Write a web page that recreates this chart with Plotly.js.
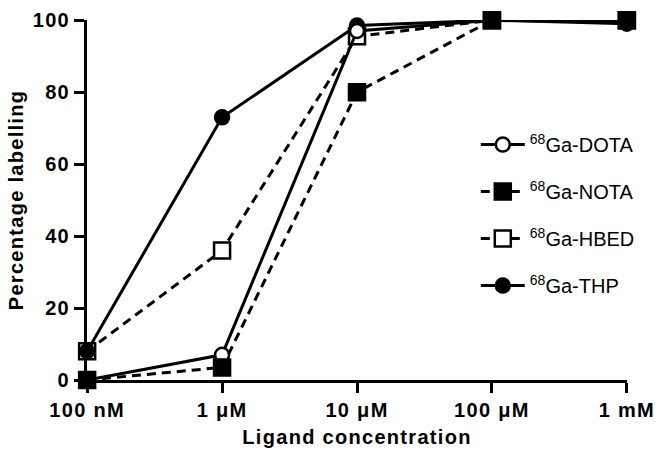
<!DOCTYPE html>
<html><head><meta charset="utf-8">
<script src="https://cdn.plot.ly/plotly-3.0.1.min.js"></script>
<style>html,body{margin:0;padding:0;background:#fff}#c{width:664px;height:460px}
#c svg .xtick text,#c svg .ytick text,#c svg .g-xtitle text,#c svg .g-ytitle text{letter-spacing:1.3px !important}</style>
</head><body><div id="c"></div>
<script>
const concentrations = [1e-7, 1e-6, 1e-5, 1e-4, 1e-3];
const tickLabels = ["100 nM", "1 μM", "10 μM", "100 μM", "1 mM"];
const yTicks = [0, 20, 40, 60, 80, 100];
const seriesNames = ["<sup>68</sup>Ga-DOTA", "<sup>68</sup>Ga-NOTA", "<sup>68</sup>Ga-HBED", "<sup>68</sup>Ga-THP"];
const dota = [0, 7, 97, 100, 99.5];
const nota = [0, 3.5, 80, 100, 100];
const hbed = [8, 36, 95.5, 100, 100];
const thp = [8, 73, 98.5, 100, 99];

function tr(name, y, dash, symbol, fill, rank) {
  const sq = symbol.indexOf('square') >= 0;
  return {
    x: concentrations, y: y, name: name, type: 'scatter', mode: 'lines+markers',
    line: {color: '#000', width: 3, dash: dash},
    marker: {symbol: symbol, size: sq ? 16 : 14, color: fill, line: {color: '#000', width: 2.5}},
    cliponaxis: false, legendrank: rank, legendgroup: 'g' + rank
  };
}
const data = [
  tr(seriesNames[2], hbed, '9px,6px', 'square', '#fff', 3),
  tr(seriesNames[3], thp, 'solid', 'circle', '#000', 4),
  tr(seriesNames[0], dota, 'solid', 'circle', '#fff', 1),
  tr(seriesNames[1], nota, '9px,6px', 'square', '#000', 2)
];
const layout = {
  width: 664, height: 460,
  margin: {l: 87, r: 37, t: 20, b: 80},
  paper_bgcolor: '#fff', plot_bgcolor: '#fff',
  font: {family: 'Liberation Sans, Arial, sans-serif', color: '#000'},
  showlegend: true,
  legend: {x: 0.72, y: 0.708, xanchor: 'left', yanchor: 'top', font: {size: 20}, tracegroupgap: 18, itemwidth: 44, bgcolor: 'rgba(0,0,0,0)'},
  xaxis: {
    type: 'log', range: [-7.001, -2.999], tickvals: concentrations, ticktext: tickLabels,
    showgrid: false, zeroline: false, showline: true, linecolor: '#000', linewidth: 3,
    ticks: 'outside', ticklen: 10, tickwidth: 3, tickcolor: '#000',
    tickfont: {size: 20, weight: 'bold'},
    title: {text: '<b>Ligand concentration</b>', font: {size: 20}, standoff: 10}
  },
  yaxis: {
    range: [0, 100.05], tickvals: yTicks,
    showgrid: false, zeroline: false, showline: true, linecolor: '#000', linewidth: 3,
    ticks: 'outside', ticklen: 10, tickwidth: 3, tickcolor: '#000',
    tickfont: {size: 20, weight: 'bold'},
    title: {text: '<b>Percentage labelling</b>', font: {size: 20}, standoff: 8}
  }
};
Plotly.newPlot('c', data, layout, {displayModeBar: false, staticPlot: true});
</script></body></html>
